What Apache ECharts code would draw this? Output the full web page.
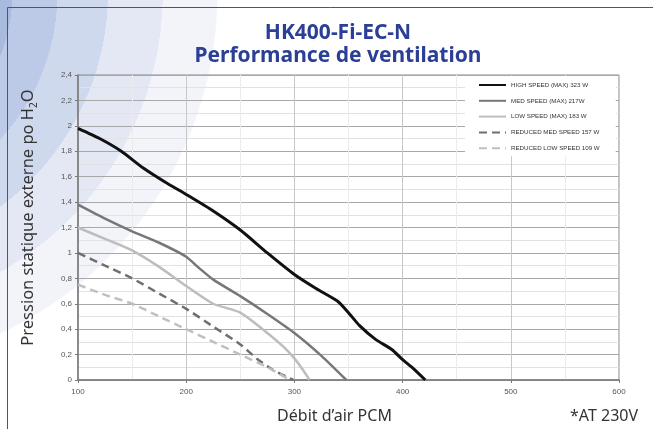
<!DOCTYPE html>
<html>
<head>
<meta charset="utf-8">
<script src="https://cdn.jsdelivr.net/npm/echarts@6/dist/echarts.min.js"></script>
<style>
  html, body { margin: 0; padding: 0; background: #fff; }
  #chart { width: 653px; height: 429px; }
</style>
</head>
<body>
<div id="chart"></div>
<script>
// débit (PCM) / pression (po H2O)
const highSpeed = [[100, 1.98], [120, 1.9], [140, 1.8], [160, 1.67], [180, 1.56], [200, 1.46], [225, 1.33], [250, 1.18], [275, 1.0], [300, 0.83], [320, 0.72], [340, 0.62], [350, 0.53], [360, 0.43], [375, 0.32], [390, 0.24], [400, 0.16], [410, 0.09], [421, 0]];
const medSpeed = [[100, 1.38], [125, 1.27], [150, 1.17], [175, 1.08], [200, 0.97], [212, 0.88], [225, 0.79], [250, 0.66], [275, 0.52], [300, 0.37], [325, 0.19], [348, 0]];
const lowSpeed = [[100, 1.2], [125, 1.11], [150, 1.02], [175, 0.89], [200, 0.74], [225, 0.6], [250, 0.53], [275, 0.37], [290, 0.26], [300, 0.17], [307, 0.09], [314, 0]];
const reducedMed = [[100, 1.0], [125, 0.9], [150, 0.8], [175, 0.68], [200, 0.56], [225, 0.42], [250, 0.28], [265, 0.17], [280, 0.08], [299, 0]];
const reducedLow = [[100, 0.75], [125, 0.67], [150, 0.6], [175, 0.5], [200, 0.4], [225, 0.3], [250, 0.2], [275, 0.1], [296, 0]];

const seriesNames = [
  "HIGH SPEED (MAX) 323 W",
  "MED SPEED (MAX) 217W",
  "LOW SPEED (MAX) 183 W",
  "REDUCED MED SPEED 157 W",
  "REDUCED LOW SPEED 109 W",
];

const myChart = echarts.init(document.getElementById("chart"));

function curve(name, data, color, width, type) {
  return {
    name: name,
    type: "line",
    data: data,
    smooth: 0.2,
    symbol: "none",
    lineStyle: { color: color, width: width, type: type },
    itemStyle: { color: color },
  };
}

// fond : arcs bleus en haut à gauche (dégradé radial à paliers)
const bands = [
  [0.453, "#a8bade"],
  [0.573, "#bccae7"],
  [0.707, "#cfd9ee"],
  [0.853, "#e3e8f4"],
  [0.997, "#f2f4fa"],
];
const stops = [];
let prev = 0;
bands.forEach(([end, c]) => {
  stops.push({ offset: prev, color: c }, { offset: end, color: c });
  prev = end;
});
stops.push({ offset: 1, color: "#ffffff" });

const option = {
  backgroundColor: {
    type: "radial",
    x: -158,
    y: -7,
    r: 376,
    global: true,
    colorStops: stops,
  },
  animation: false,
  title: {
    text: "HK400-Fi-EC-N\nPerformance de ventilation",
    left: 333,
    top: 17,
    textAlign: "center",
    textStyle: {
      fontFamily: "Noto Sans",
      fontSize: 21,
      fontWeight: "bold",
      color: "#2b3f96",
      lineHeight: 23,
    },
  },
  graphic: [
    {
      type: "rect",
      silent: true,
      shape: { x: 7.5, y: 7.5, width: 700, height: 500 },
      style: { fill: null, stroke: "#555", lineWidth: 1 },
    },
    {
      type: "text",
      left: 570,
      top: 408,
      style: {
        text: "*AT 230V",
        fontFamily: "Noto Sans",
        fontSize: 16,
        fill: "#333",
      },
    },
  ],
  legend: {
    orient: "vertical",
    left: 465,
    top: 76,
    padding: [5, 16, 4, 13],
    backgroundColor: "#fff",
    itemWidth: 27,
    itemHeight: 10,
    itemGap: 7.8,
    itemTextGap: 3,
    data: seriesNames,
    itemStyle: { color: "transparent", borderWidth: 0, opacity: 0 },
    textStyle: {
      fontFamily: "Liberation Sans",
      fontSize: 6.2,
      color: "#333",
    },
  },
  grid: {
    left: 78,
    right: 34,
    top: 75,
    bottom: 47,
    show: true,
    borderColor: "#888",
    borderWidth: 1,
    backgroundColor: "transparent",
  },
  xAxis: {
    type: "value",
    min: 100,
    max: 600,
    interval: 100,
    name: "Débit d’air PCM",
    nameLocation: "middle",
    nameGap: 28,
    nameTextStyle: {
      fontFamily: "Noto Sans",
      fontSize: 16,
      color: "#333",
      padding: [0, 28, 0, 0],
    },
    axisLine: { show: true, lineStyle: { color: "#777", width: 1.5 } },
    axisTick: { show: true, length: 3, lineStyle: { color: "#777" } },
    axisLabel: {
      margin: 8,
      fontFamily: "Liberation Sans",
      fontSize: 8,
      color: "#555",
    },
    splitLine: { show: true, lineStyle: { color: "#c8c8c8", width: 1 } },
    minorTick: { show: false, splitNumber: 2 },
    minorSplitLine: { show: true, lineStyle: { color: "#ebebeb", width: 1 } },
  },
  yAxis: {
    type: "value",
    min: 0,
    max: 2.4,
    interval: 0.2,
    name: "{a|Pression statique externe po H}{s|2}{a|O}",
    nameLocation: "middle",
    nameRotate: 90,
    nameGap: 39,
    nameTextStyle: {
      padding: [0, 0, 0, 20],
      rich: {
        a: { fontFamily: "Noto Sans", fontSize: 16.5, color: "#333", lineHeight: 22, verticalAlign: "middle" },
        s: { fontFamily: "Noto Sans", fontSize: 10, color: "#333", lineHeight: 10, verticalAlign: "bottom" },
      },
    },
    axisLine: { show: true, lineStyle: { color: "#777", width: 1.5 } },
    axisTick: { show: true, length: 3, lineStyle: { color: "#777" } },
    axisLabel: {
      margin: 6,
      fontFamily: "Liberation Sans",
      fontSize: 8,
      color: "#555",
      formatter: (v) => String(+v.toFixed(1)).replace(".", ","),
    },
    splitLine: { show: true, lineStyle: { color: "#a8a8a8", width: 1 } },
    minorTick: { show: false, splitNumber: 2 },
    minorSplitLine: { show: true, lineStyle: { color: "#e2e2e2", width: 1 } },
  },
  series: [
    curve(seriesNames[0], highSpeed, "#111111", 3, "solid"),
    curve(seriesNames[1], medSpeed, "#777777", 2.5, "solid"),
    curve(seriesNames[2], lowSpeed, "#bdbdbd", 2.5, "solid"),
    curve(seriesNames[3], reducedMed, "#6f6f6f", 2.5, [8, 5]),
    curve(seriesNames[4], reducedLow, "#c0c0c0", 2.5, [8, 5]),
  ],
};

myChart.setOption(option);
window.addEventListener("resize", () => {
  myChart.resize();
});
</script>
</body>
</html>
